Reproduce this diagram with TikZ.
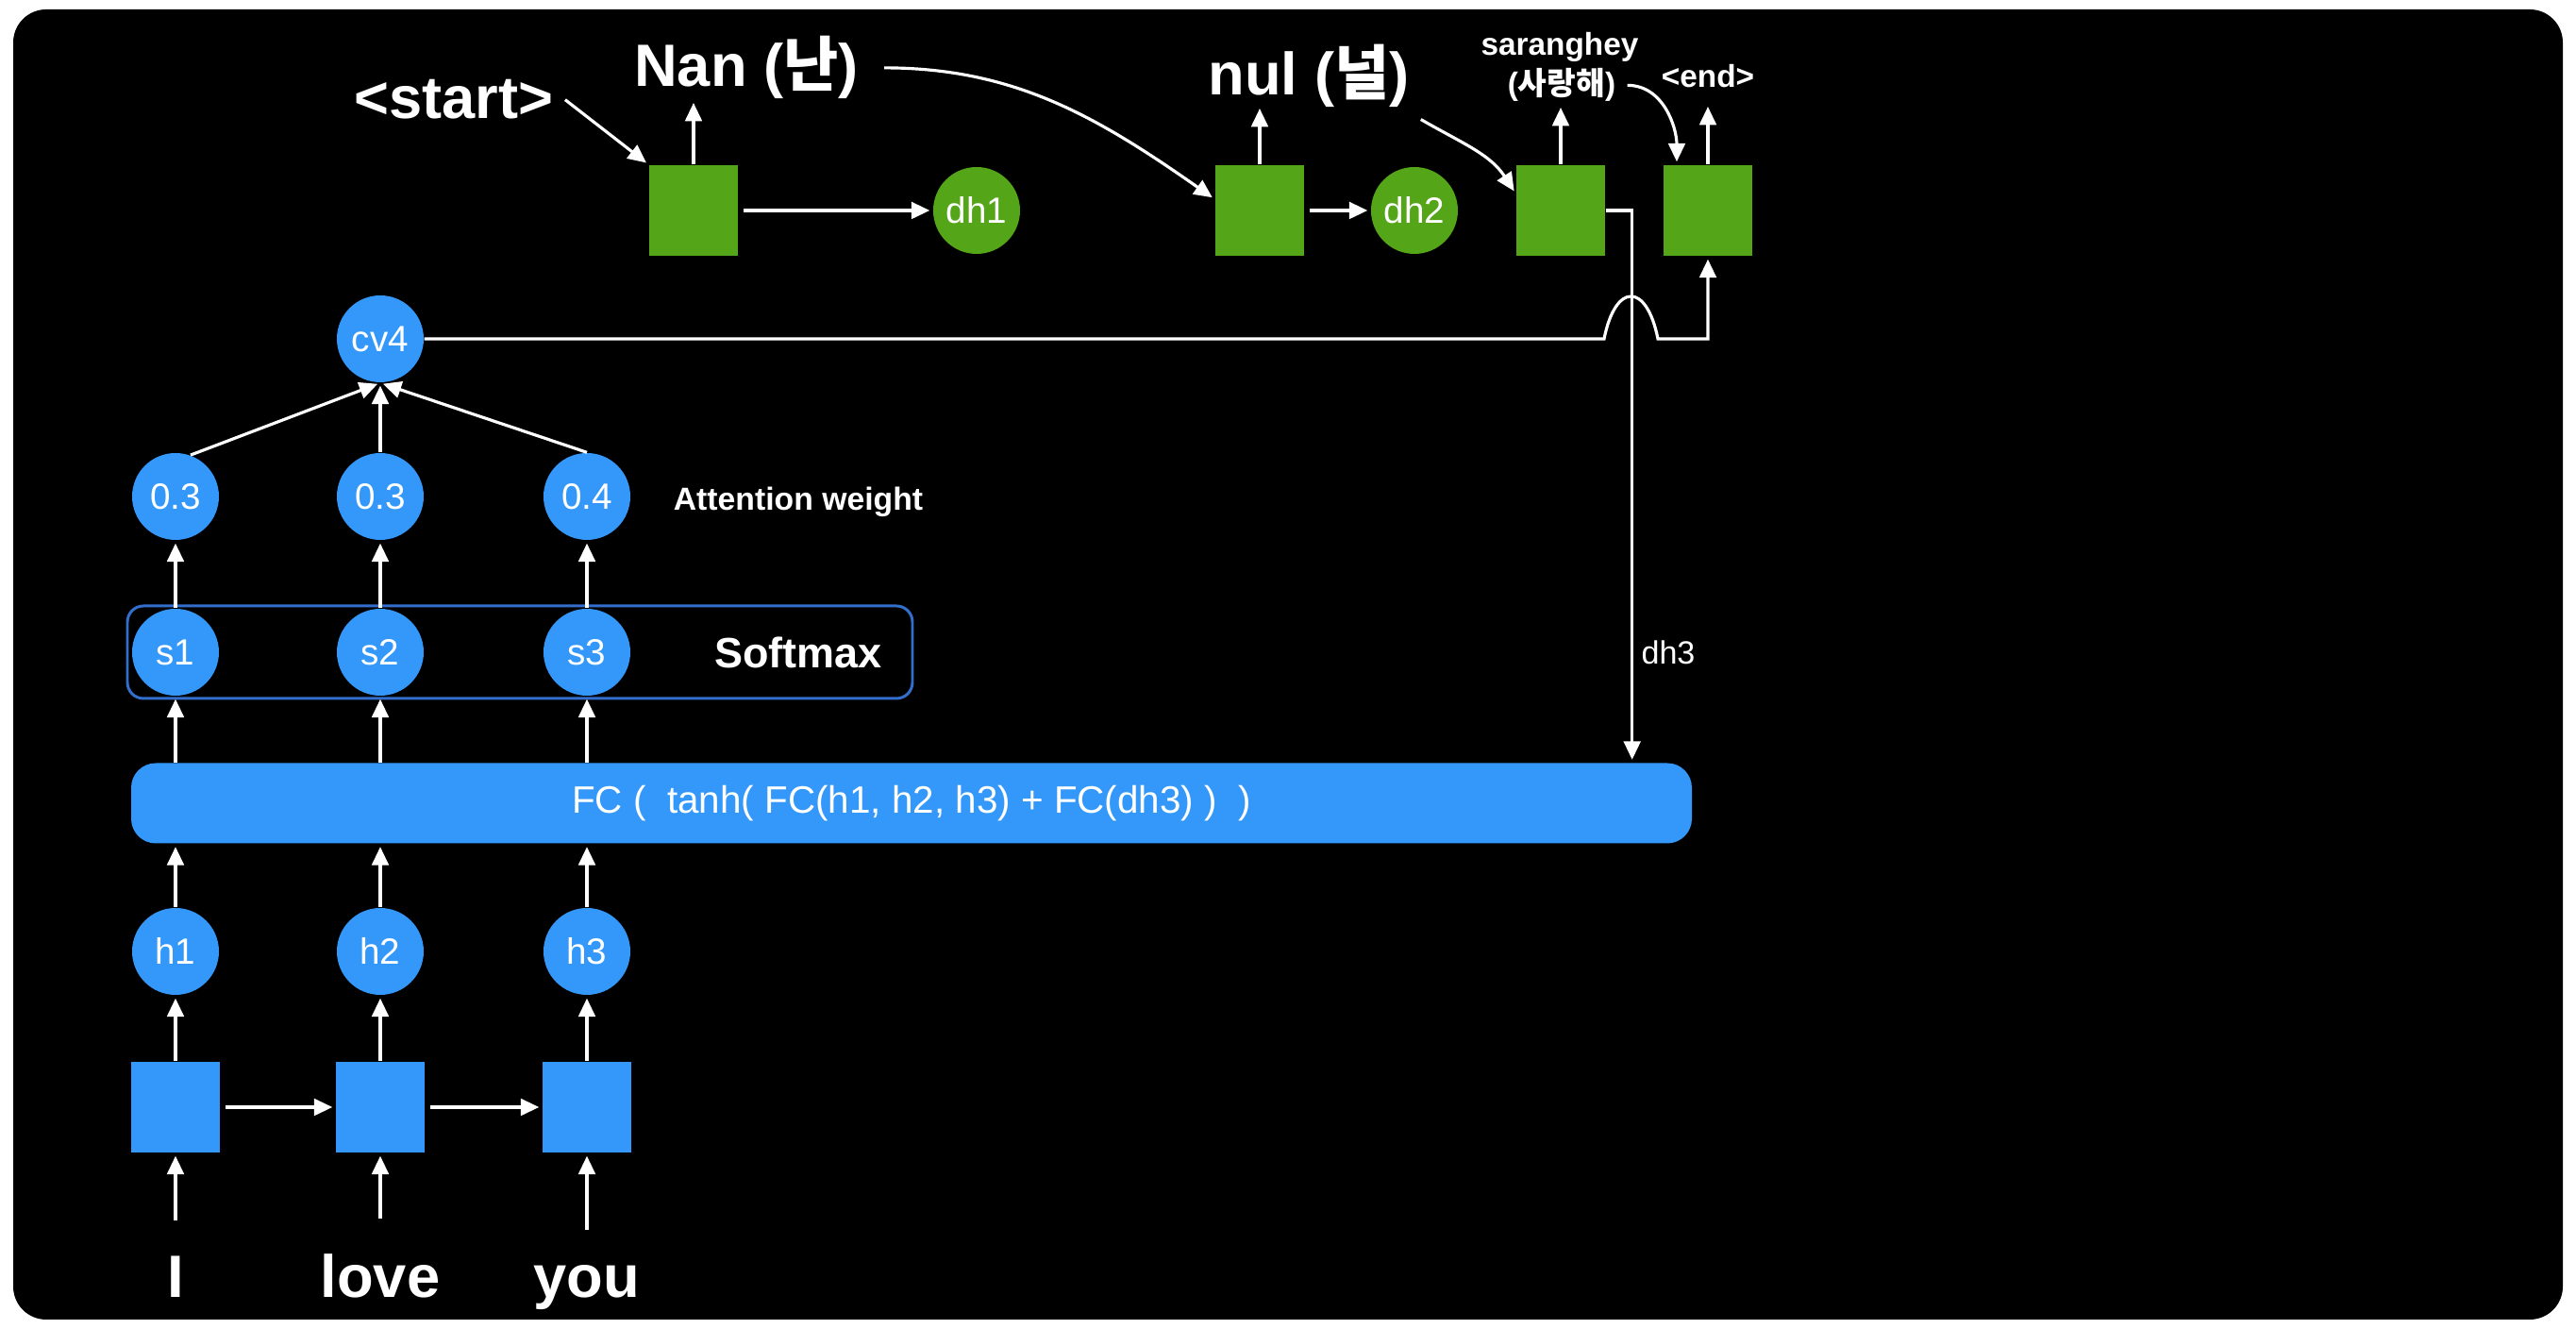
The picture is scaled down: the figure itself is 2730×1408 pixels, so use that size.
\documentclass[tikz,border=0pt]{standalone}
\usepackage{fontspec}
\setmainfont{Liberation Sans}
\newfontfamily\kofont{Noto Sans CJK KR}
\usetikzlibrary{positioning,calc,shapes,arrows.meta}
\definecolor{encblue}{RGB}{52,152,250}
\definecolor{decgreen}{RGB}{84,166,24}
\definecolor{smline}{RGB}{52,110,205}
\tikzset{
    attn/.style={
        x=0.1mm, y=0.1mm,
        % cells of encoder and decoder (squares)
        cell/.style={rectangle, minimum width=9.4mm, minimum height=9.6mm,
                     inner sep=0pt},
        enccell/.style={cell, fill=encblue},
        deccell/.style={cell, fill=decgreen},
        % hidden states, scores and weights (circles)
        hstate/.style={circle, minimum size=9.2mm, inner sep=0pt, text=white,
                       font=\fontsize{11}{13}\selectfont},
        encstate/.style={hstate, fill=encblue},
        decstate/.style={hstate, fill=decgreen},
        % FC bar and softmax frame
        fcbar/.style={rectangle, fill=encblue, rounded corners=2.6mm,
                      minimum width=165.4mm, minimum height=8.5mm, text=white,
                      font=\fontsize{11.5}{13}\selectfont},
        softbox/.style={rectangle, draw=smline, line width=0.85pt,
                        rounded corners=1.7mm, minimum width=83.2mm,
                        minimum height=9.8mm},
        % words and labels
        bigword/.style={text=white, anchor=base,
                        font=\bfseries\fontsize{18}{20}\selectfont},
        smallword/.style={text=white, anchor=base,
                          font=\bfseries\fontsize{9.5}{11}\selectfont},
        lbl/.style={text=white, font=\bfseries\fontsize{9.6}{11}\selectfont},
        % connectors
        link/.style={draw=white, line width=0.9pt,
                     -{Triangle[width=5pt,length=5.5pt]}, shorten >=0.3mm}
    }
}
\begin{document}
\begin{tikzpicture}[attn]
  \useasboundingbox (0,0) rectangle (2730,1408);
  \fill[white] (0,0) rectangle (2730,1408);
  \fill[black, rounded corners=3.5mm] (14,10) rectangle (2716,1398);

  % encoder
  \node[bigword] (w1) at (186,33) {I};
  \node[bigword] (w2) at (403,33) {love};
  \node[bigword] (w3) at (622,33) {you};
  \node[enccell] (e1) at (186,235) {};
  \node[enccell] (e2) at (403,235) {};
  \node[enccell] (e3) at (622,235) {};
  \node[encstate] (h1) at (186,400) {h1};
  \node[encstate] (h2) at (403,400) {h2};
  \node[encstate] (h3) at (622,400) {h3};

  \node[fcbar] (fc) at (966,557) {FC (\ \ tanh( FC(h1, h2, h3) + FC(dh3) )\ \ )};

  \node[softbox] (sm) at (551,717) {};
  \node[encstate] (s1) at (186,717) {s1};
  \node[encstate] (s2) at (403,717) {s2};
  \node[encstate] (s3) at (622,717) {s3};
  \node[lbl, font=\bfseries\fontsize{12.8}{14}\selectfont] (smtxt) at (846,717) {Softmax};

  \node[encstate] (a1) at (186,882) {0.3};
  \node[encstate] (a2) at (403,882) {0.3};
  \node[encstate] (a3) at (622,882) {0.4};
  \node[lbl] (attw) at (846,876) {Attention weight};

  \node[encstate] (cv) at (403,1049) {cv4};

  % decoder
  \node[deccell] (d1) at (735,1185) {};
  \node[decstate] (dh1) at (1035,1185) {dh1};
  \node[deccell] (d2) at (1335,1185) {};
  \node[decstate] (dh2) at (1499,1185) {dh2};
  \node[deccell] (d3) at (1654,1185) {};
  \node[deccell] (d4) at (1810,1185) {};

  \node[bigword] (start) at (481,1282) {<start>};
  \node[bigword] (nan) at (791,1316) {Nan ({\kofont 난})};
  \node[bigword] (nul) at (1387,1307) {nul ({\kofont 널})};
  \node[smallword] (sar) at (1653,1349) {saranghey};
  \node[smallword] (sarko) at (1655,1307) {({\kofont 사랑해})};
  \node[smallword] (eos) at (1810,1315) {<end>};
  \node[lbl, font=\fontsize{9.7}{11}\selectfont] (dhlbl) at (1768,717) {dh3};

  \coordinate (dhin) at ($(fc.north east)+(-64,0)$);
  \coordinate (hl) at (1700,1049);
  \coordinate (hr) at (1757,1049);

  % encoder connectors
  \draw[link, shorten <=2.6mm] (w1) -- (e1);
  \draw[link, shorten <=2.6mm] (w2) -- (e2);
  \draw[link, shorten <=2.6mm] (w3) -- (e3);
  \draw[link, shorten <=0.5mm] (e1) -- (e2);
  \draw[link, shorten <=0.5mm] (e2) -- (e3);
  \draw[link] (e1) -- (h1);
  \draw[link] (e2) -- (h2);
  \draw[link] (e3) -- (h3);
  \draw[link] (h1) -- (h1 |- fc.south);
  \draw[link] (h2) -- (h2 |- fc.south);
  \draw[link] (h3) -- (h3 |- fc.south);
  \draw[link] (h1 |- fc.north) -- (s1);
  \draw[link] (h2 |- fc.north) -- (s2);
  \draw[link] (h3 |- fc.north) -- (s3);
  \draw[link] (s1) -- (a1);
  \draw[link] (s2) -- (a2);
  \draw[link] (s3) -- (a3);
  \draw[link] (a1.70) -- (cv.south);
  \draw[link] (a2) -- (cv.south);
  \draw[link] (a3.north) -- (cv.south);

  % decoder connectors
  \draw[link] (start.east) -- (d1.north west);
  \draw[link] (d1) -- ($(d1 |- nan.base)+(0,-14)$);
  \draw[link, shorten <=0.5mm] (d1) -- (dh1);
  \draw[link, shorten <=1.5mm] (nan.east) to[out=0, in=145] ([yshift=1.2mm]d2.west);
  \draw[link] (d2) -- ($(d2 |- nul.base)+(0,-11)$);
  \draw[link, shorten <=0.5mm] (d2) -- (dh2);
  \draw[link] (nul.south east) to[out=-30, in=123] ([yshift=1.8mm]d3.west);
  \draw[link] (d3) -- ($(d3 |- sarko.base)+(0,-10)$);
  \draw[link] (sarko.east) to[out=0, in=90] ([xshift=-3.3mm]d4.north);
  \draw[link] (d4) -- ($(d4 |- eos.base)+(0,-17)$);
  \draw[link] (d3) -| (dhin);
  \draw[link] (cv) -- (hl) .. controls +(12,60) and +(-12,60) .. (hr) -| (d4);
\end{tikzpicture}
\end{document}
